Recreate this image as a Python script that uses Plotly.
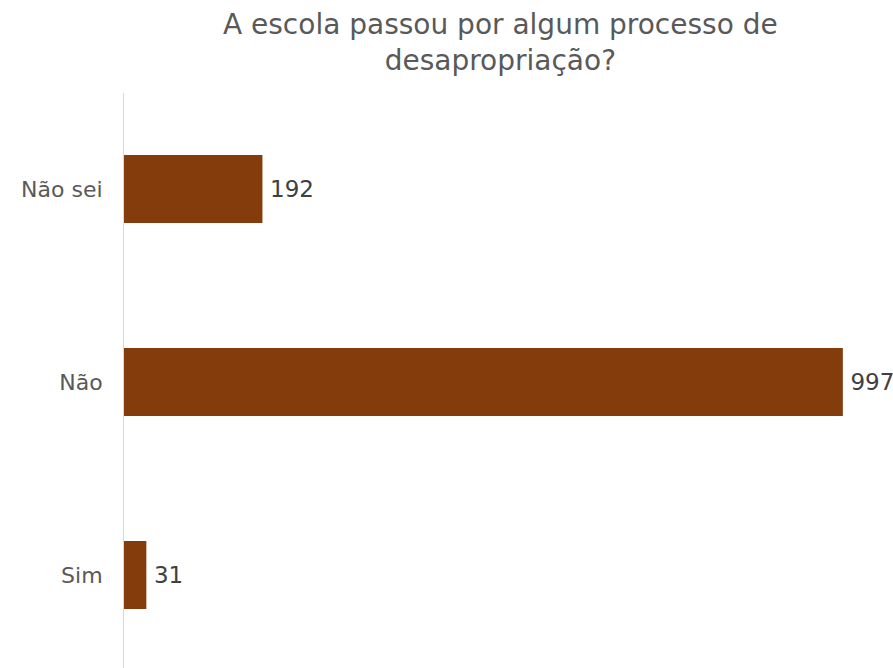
import plotly.graph_objects as go

categories = ["Sim", "Não", "Não sei"]
values = [31, 997, 192]
title_text = "A escola passou por algum processo de<br>desapropriação?"

fig = go.Figure(go.Bar(
    y=categories, x=values, orientation="h",
    marker=dict(color="#843C0C", line=dict(width=0)),
    text=["\u2009" + str(v) for v in values], textposition="outside",
    textfont=dict(family="DejaVu Sans", size=23, color="#404040"),
    cliponaxis=False, width=0.352,
))

fig.add_annotation(
    text=title_text, xref="paper", yref="paper",
    x=(500 - 124) / 721, y=1 + (93 - 6) / 575, xanchor="center", yanchor="top",
    showarrow=False, align="center",
    font=dict(family="DejaVu Sans", size=28, color="#595959"),
)

fig.update_layout(
    width=893, height=668,
    margin=dict(l=124, r=48, t=93, b=0),
    paper_bgcolor="white", plot_bgcolor="white",
    showlegend=False,
    xaxis=dict(range=[0, 1000], visible=False, showgrid=False, zeroline=False),
    yaxis=dict(type="category", categoryorder="array", categoryarray=categories,
               range=[-0.482, 2.497], showline=True, linecolor="#D9D9D9", linewidth=1,
               showgrid=False, zeroline=False, ticks="", ticklabelstandoff=16,
               tickfont=dict(family="DejaVu Sans", size=22, color="#595959")),
)

fig.write_html("out.html")
